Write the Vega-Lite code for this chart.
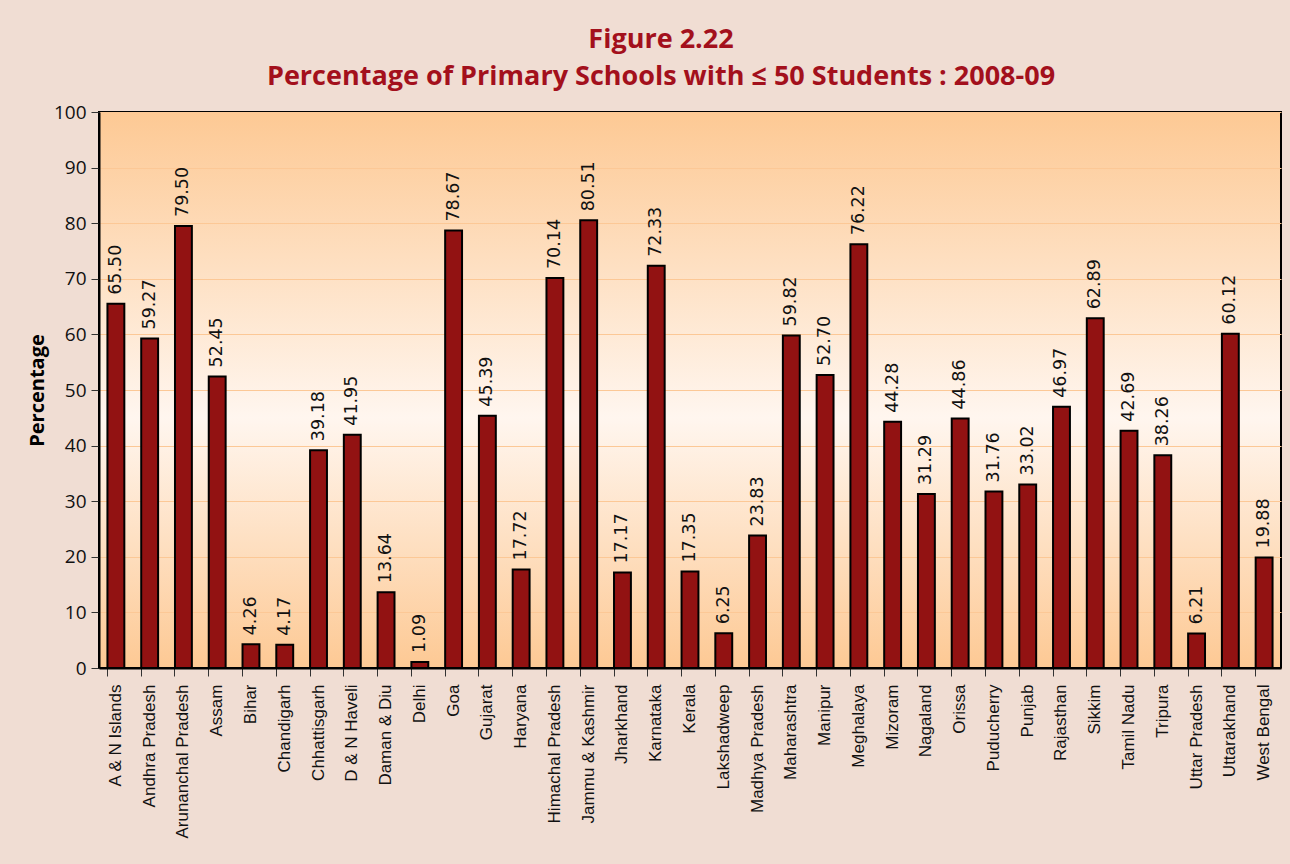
{
  "$schema": "https://vega.github.io/schema/vega-lite/v6.json",
  "autosize": {"type": "none"},
  "padding": {"left": 99, "top": 112, "right": 9, "bottom": 196},
  "width": 1182,
  "height": 556,
  "background": "#f0ddd3",
  "title": {
    "text": "Figure 2.22",
    "subtitle": "Percentage of Primary Schools with ≤ 50 Students : 2008-09",
    "anchor": "middle",
    "frame": "group",
    "dx": -29,
    "offset": 12,
    "font": "Open Sans",
    "fontSize": 27,
    "fontWeight": "bold",
    "color": "#a3101c",
    "subtitleFont": "Open Sans",
    "subtitleFontSize": 27,
    "subtitleFontWeight": "bold",
    "subtitleColor": "#a3101c",
    "subtitlePadding": 10
  },
  "config": {
    "view": {
      "stroke": "#000000",
      "strokeWidth": 2,
      "fill": {
        "gradient": "linear",
        "x1": 0, "y1": 0, "x2": 0, "y2": 1,
        "stops": [
          {"offset": 0, "color": "#fdc994"},
          {"offset": 0.55, "color": "#fff6ef"},
          {"offset": 1, "color": "#fdc994"}
        ]
      }
    }
  },
  "data": {
    "values": [
      {"state": "A & N Islands", "pct": 65.50},
      {"state": "Andhra Pradesh", "pct": 59.27},
      {"state": "Arunanchal Pradesh", "pct": 79.50},
      {"state": "Assam", "pct": 52.45},
      {"state": "Bihar", "pct": 4.26},
      {"state": "Chandigarh", "pct": 4.17},
      {"state": "Chhattisgarh", "pct": 39.18},
      {"state": "D & N Haveli", "pct": 41.95},
      {"state": "Daman & Diu", "pct": 13.64},
      {"state": "Delhi", "pct": 1.09},
      {"state": "Goa", "pct": 78.67},
      {"state": "Gujarat", "pct": 45.39},
      {"state": "Haryana", "pct": 17.72},
      {"state": "Himachal Pradesh", "pct": 70.14},
      {"state": "Jammu & Kashmir", "pct": 80.51},
      {"state": "Jharkhand", "pct": 17.17},
      {"state": "Karnataka", "pct": 72.33},
      {"state": "Kerala", "pct": 17.35},
      {"state": "Lakshadweep", "pct": 6.25},
      {"state": "Madhya Pradesh", "pct": 23.83},
      {"state": "Maharashtra", "pct": 59.82},
      {"state": "Manipur", "pct": 52.70},
      {"state": "Meghalaya", "pct": 76.22},
      {"state": "Mizoram", "pct": 44.28},
      {"state": "Nagaland", "pct": 31.29},
      {"state": "Orissa", "pct": 44.86},
      {"state": "Puducherry", "pct": 31.76},
      {"state": "Punjab", "pct": 33.02},
      {"state": "Rajasthan", "pct": 46.97},
      {"state": "Sikkim", "pct": 62.89},
      {"state": "Tamil Nadu", "pct": 42.69},
      {"state": "Tripura", "pct": 38.26},
      {"state": "Uttar Pradesh", "pct": 6.21},
      {"state": "Uttarakhand", "pct": 60.12},
      {"state": "West Bengal", "pct": 19.88}
    ]
  },
  "encoding": {
    "x": {
      "field": "state",
      "type": "nominal",
      "sort": null,
      "scale": {"paddingInner": 0.5, "paddingOuter": 0.25},
      "axis": {
        "title": null,
        "labelAngle": -90,
        "labelFont": "Liberation Sans",
        "labelFontSize": 17,
        "labelColor": "#111111",
        "labelPadding": 8,
        "bandPosition": 0,
        "tickColor": "#333333",
        "tickSize": 8,
        "domainColor": "#000000",
        "domainWidth": 2
      }
    },
    "y": {
      "field": "pct",
      "type": "quantitative",
      "scale": {"domain": [0, 100]},
      "axis": {
        "title": "Percentage",
        "titleFont": "Open Sans",
        "titleFontSize": 20,
        "titleFontWeight": "bold",
        "titleColor": "#000000",
        "titlePadding": 6,
        "values": [0, 10, 20, 30, 40, 50, 60, 70, 80, 90, 100],
        "labelFont": "Open Sans",
        "labelFontSize": 19,
        "labelColor": "#111111",
        "labelPadding": 5,
        "tickColor": "#333333",
        "tickSize": 8,
        "domainColor": "#000000",
        "domainWidth": 2,
        "grid": true,
        "gridColor": "#fcc896",
        "gridWidth": 1
      }
    }
  },
  "layer": [
    {
      "mark": {"type": "bar", "fill": "#921212", "stroke": "#000000", "strokeWidth": 2}
    },
    {
      "mark": {
        "type": "text",
        "angle": 270,
        "align": "left",
        "baseline": "middle",
        "dx": 9,
        "font": "DejaVu Sans",
        "fontSize": 17.5,
        "color": "#111111"
      },
      "encoding": {
        "text": {"field": "pct", "type": "quantitative", "format": ".2f"}
      }
    }
  ]
}
